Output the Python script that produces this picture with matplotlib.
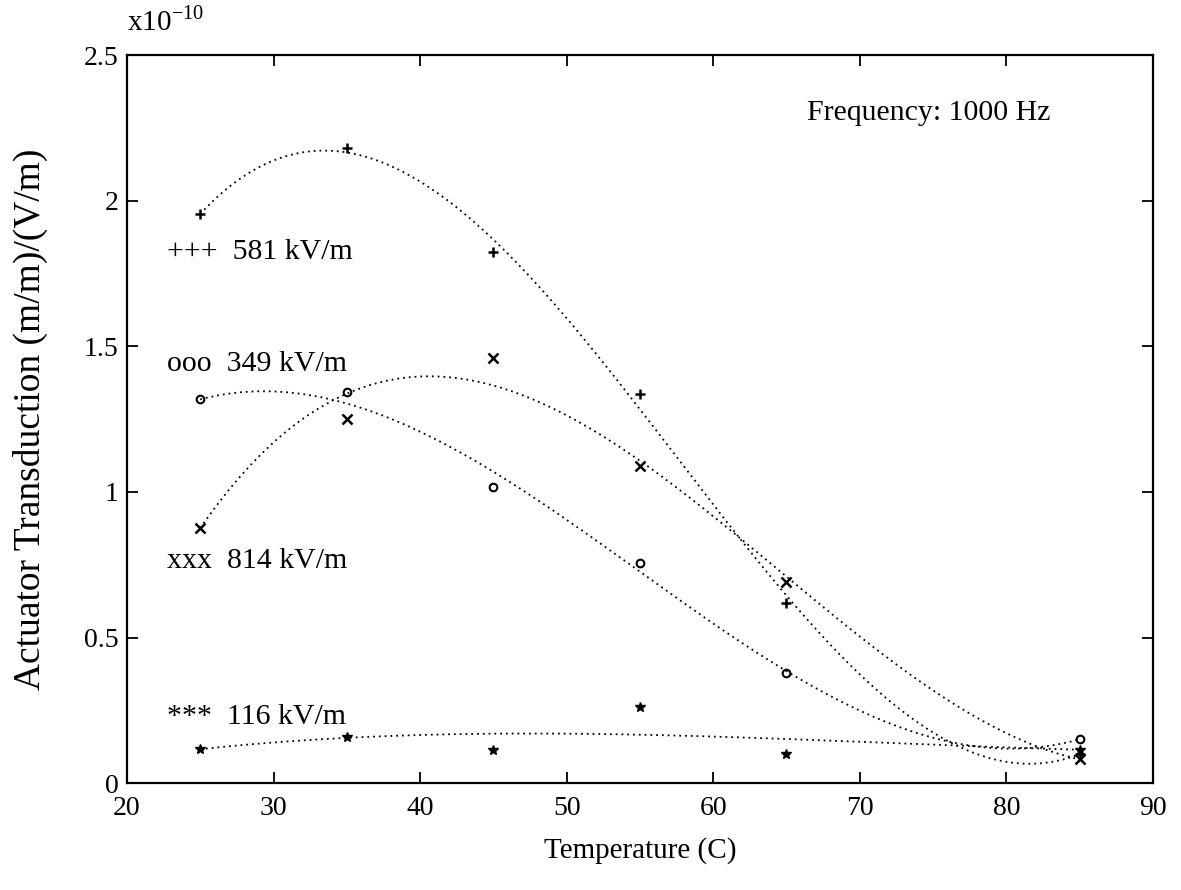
import numpy as np
import matplotlib
matplotlib.use("Agg")
import matplotlib.pyplot as plt

plt.rcParams['font.family'] = ['Liberation Serif', 'DejaVu Serif']
plt.rcParams['mathtext.fontset'] = 'stix'
plt.rcParams['axes.unicode_minus'] = False

# Temperatures (C) and transduction values (x1e-10 (m/m)/(V/m))
temperature = [25, 35, 45, 55, 65, 85]
field_581 = [1.955, 2.18, 1.825, 1.335, 0.62, 0.10]
field_349 = [1.318, 1.342, 1.017, 0.756, 0.38, 0.151]
field_814 = [0.876, 1.249, 1.459, 1.089, 0.692, 0.082]
field_116 = [0.117, 0.16, 0.113, 0.261, 0.10, 0.115]

series = [
    (field_581, '+', '+++  581 kV/m', 1.825),
    (field_349, 'o', 'ooo  349 kV/m', 1.44),
    (field_814, 'x', 'xxx  814 kV/m', 0.763),
    (field_116, '*', '***  116 kV/m', 0.227),
]

fig = plt.figure(figsize=(11.81, 8.90), dpi=100)
ax = fig.add_axes([0.1075, 0.12, 0.8687, 0.818])

t = np.array(temperature, dtype=float)
t_fine = np.linspace(t.min(), t.max(), 300)
weights = np.array([20, 1, 1, 1, 1, 20], dtype=float)

for values, marker, label, label_y in series:
    v = np.array(values)
    # cubic trend, pinned at the first and last measurement
    coeffs = np.polyfit(t, v, 3, w=weights)
    ax.plot(t_fine, np.polyval(coeffs, t_fine), color='black',
            linestyle=(0, (1, 2.2)), linewidth=1.3)
    if marker == 'o':
        ax.plot(t, v, linestyle='none', marker='o', markersize=5.5,
                markerfacecolor='none', markeredgecolor='black', markeredgewidth=1.5)
    elif marker == '*':
        ax.plot(t, v, linestyle='none', marker='*', markersize=7,
                color='black')
    else:
        ax.plot(t, v, linestyle='none', marker=marker, markersize=6.5,
                color='black', markeredgewidth=1.8)
    ax.text(22.75, label_y, label, fontsize=21.5, ha='left', va='center')

ax.text(66.4, 2.30, 'Frequency: 1000 Hz', fontsize=21.5, ha='left', va='center')
ax.text(0.0, 1.025, r'x10$^{\mathregular{-10}}$', transform=ax.transAxes,
        fontsize=21, ha='left', va='bottom')

ax.set_xlim(20, 90)
ax.set_ylim(0, 2.5)
ax.set_xticks(np.arange(20, 91, 10))
ax.set_yticks([0, 0.5, 1, 1.5, 2, 2.5])
ax.set_yticklabels(['0', '0.5', '1', '1.5', '2', '2.5'])
ax.tick_params(direction='in', length=8, width=1.3, top=True, right=True,
               labelsize=20, pad=6)
ax.tick_params(axis='x', pad=9)
for s in ax.spines.values():
    s.set_linewidth(1.6)

ax.set_xlabel('Temperature (C)', fontsize=21, labelpad=12)
ax.set_ylabel('Actuator Transduction (m/m)/(V/m)', fontsize=27, labelpad=26)

fig.savefig('out.png', dpi=100)
